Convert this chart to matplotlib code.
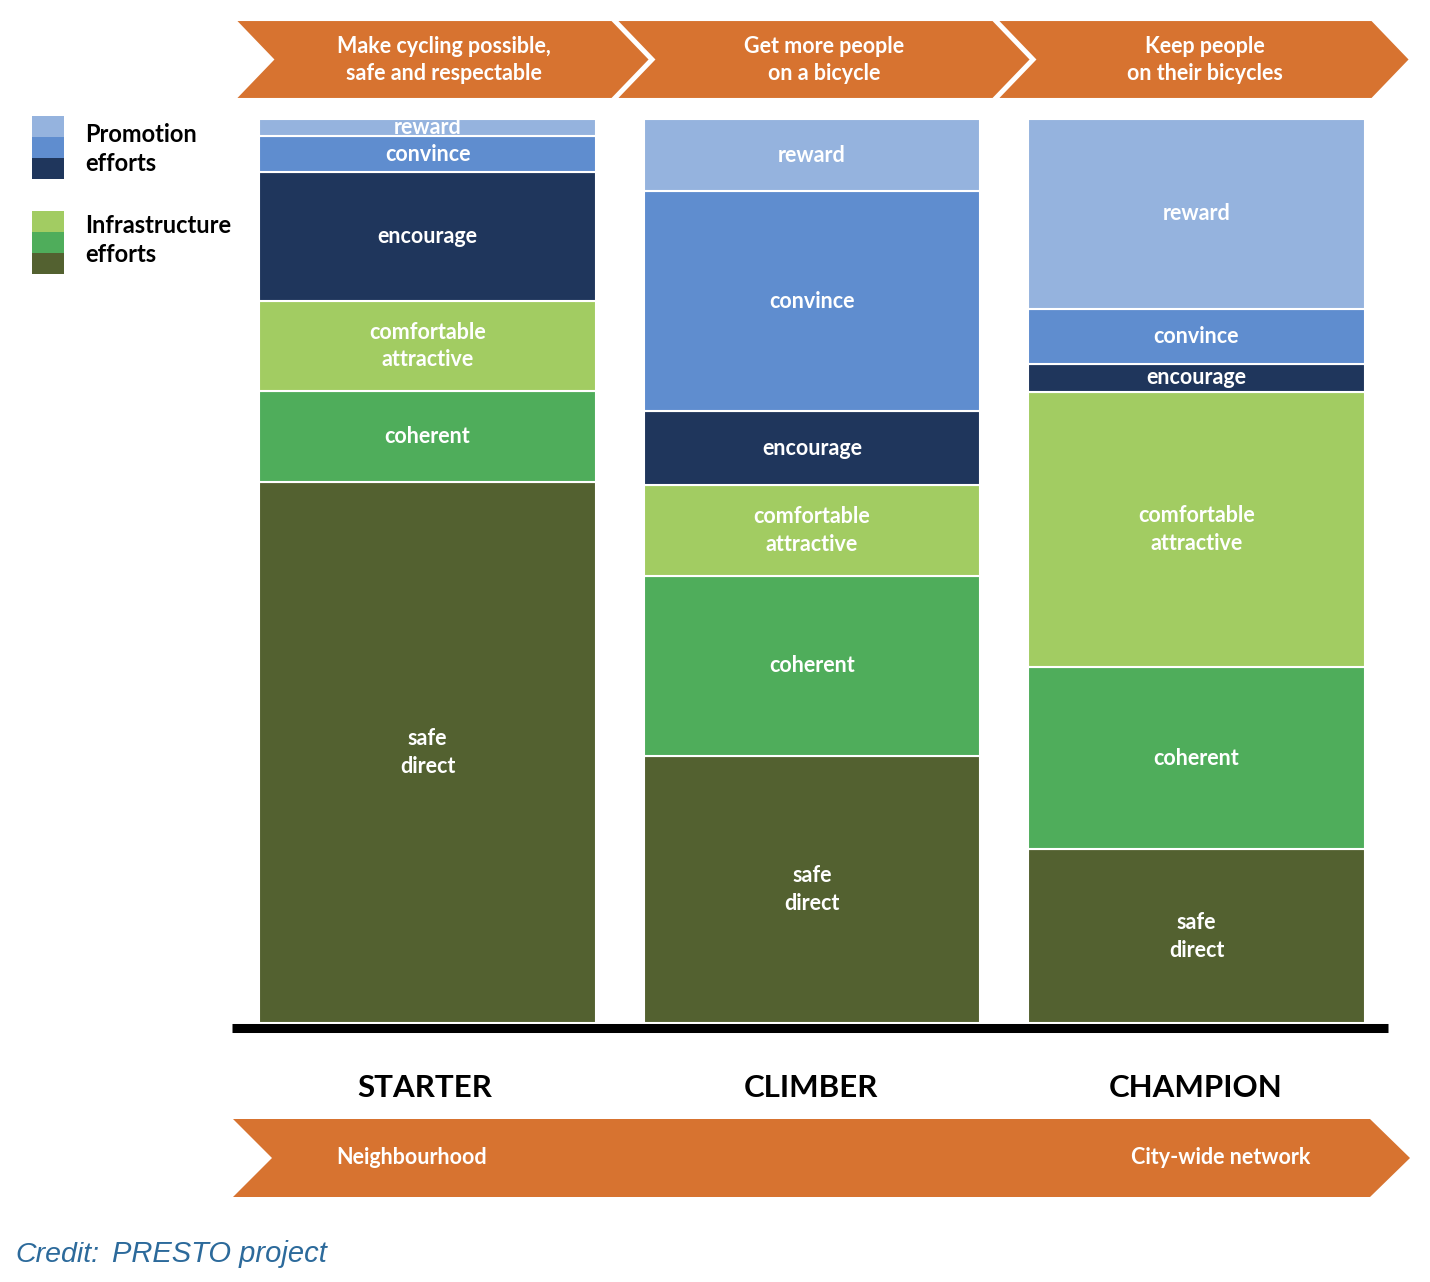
import numpy as np
import matplotlib
matplotlib.use("Agg")
import matplotlib.pyplot as plt
from matplotlib.patches import Polygon, Rectangle

# stages and their share of effort (percent of bar height, bottom to top)
stages = ["STARTER", "CLIMBER", "CHAMPION"]
layers = ["safe\ndirect", "coherent", "comfortable\nattractive", "encourage", "convince", "reward"]
safe_direct = [59.8, 29.5, 19.2]
coherent = [10.1, 20, 20.2]
comfortable = [10, 10, 30.4]
encourage = [14.2, 8.2, 3.1]
convince = [4, 24.3, 6.1]
reward = [1.9, 8, 21]

goals = ["Make cycling possible,\nsafe and respectable",
         "Get more people\non a bicycle",
         "Keep people\non their bicycles"]
scale_labels = ["Neighbourhood", "City-wide network"]

colors = ["#536130", "#4FAD5B", "#A2CC62", "#1F365C", "#5F8DCF", "#95B3DE"]
orange = "#D77330"
font = "Lato"

W, H = 1430, 1282
fig = plt.figure(figsize=(W / 100, H / 100), dpi=100)

# overlay in pixel coordinates for the decorations
deco = fig.add_axes([0, 0, 1, 1])
deco.set_xlim(0, W)
deco.set_ylim(H, 0)
deco.axis("off")

# top chevrons
for (left, right), goal in zip([(235, 612), (616, 993), (997, 1372)], goals):
    pts = [(left, 20), (right, 20), (right + 38, 59.5), (right, 99), (left, 99), (left + 38, 59.5)]
    deco.add_patch(Polygon(pts, closed=True, fc=orange, ec="white", lw=1.5))
    deco.text((left + right) / 2 + 20, 60, goal, ha="center", va="center", color="white",
              fontsize=15.5, fontweight="bold", family=font, linespacing=1.3)

# bottom arrow
pts = [(233, 1119), (1370, 1119), (1410, 1158), (1370, 1197), (233, 1197), (272, 1158)]
deco.add_patch(Polygon(pts, closed=True, fc=orange, ec="none"))
deco.text(412, 1158, scale_labels[0], ha="center", va="center", color="white",
          fontsize=15.5, fontweight="bold", family=font)
deco.text(1221, 1158, scale_labels[1], ha="center", va="center", color="white",
          fontsize=15.5, fontweight="bold", family=font)

# legend swatches
for i, c in enumerate([colors[5], colors[4], colors[3]]):
    deco.add_patch(Rectangle((32, 116 + 21 * i), 32, 21, fc=c, ec="none"))
for i, c in enumerate([colors[2], colors[1], colors[0]]):
    deco.add_patch(Rectangle((32, 211 + 21 * i), 32, 21, fc=c, ec="none"))
deco.text(85, 149, "Promotion\nefforts", ha="left", va="center", fontsize=17,
          fontweight="bold", family=font, linespacing=1.35)
deco.text(85, 240, "Infrastructure\nefforts", ha="left", va="center", fontsize=17,
          fontweight="bold", family=font, linespacing=1.35)

# baseline and stage names
deco.plot([232, 1388], [1027.5, 1027.5], color="black", lw=6.5, solid_capstyle="butt")
for x, s in zip([425, 811, 1196], stages):
    deco.text(x, 1088, s, ha="center", va="center", fontsize=22.5, fontweight="bold",
              family=font, color="black")

# credit
deco.text(15, 1255, "Credit:", ha="left", va="center", fontsize=20.5, style="italic",
          family="Liberation Sans", color="#2C6A9B")
deco.text(112, 1254, "PRESTO project", ha="left", va="center", fontsize=21, style="italic",
          family="Liberation Sans", color="#2C6A9B")

# stacked bars
ax = fig.add_axes([232 / W, (H - 1023) / H, (1388 - 232) / W, 904 / H])
ax.set_xlim((232 - 427.5) / 384.5, (1388 - 427.5) / 384.5)
ax.set_ylim(0, 100)
ax.axis("off")

x = np.arange(len(stages))
series = [safe_direct, coherent, comfortable, encourage, convince, reward]
bottom = np.zeros(len(stages))
for vals, c, lab in zip(series, colors, layers):
    vals = np.array(vals, dtype=float)
    ax.bar(x, vals, bottom=bottom, width=0.876, color=c, edgecolor="white", linewidth=1.5)
    for xi, b, v in zip(x, bottom, vals):
        ax.text(xi, b + v / 2, lab, ha="center", va="center", color="white",
                fontsize=15.5, fontweight="bold", family=font, linespacing=1.4)
    bottom += vals

fig.savefig("out.png", dpi=100)
